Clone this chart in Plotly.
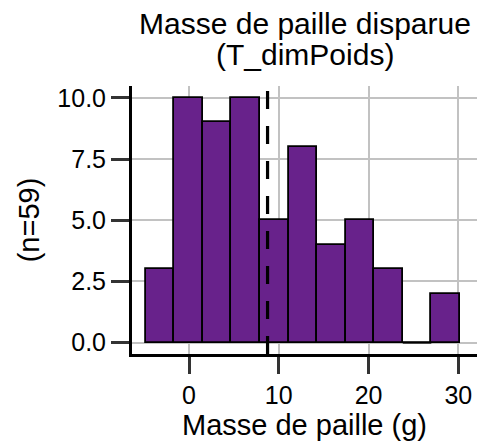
import plotly.graph_objects as go

# ---- data ----
bin_start = -4.81
bin_width = 3.18
counts = [3, 10, 9, 10, 5, 8, 4, 5, 3, 0, 2]
mean_value = 8.75
n_obs = 59
title_lines = ["Masse de paille disparue", "(T_dimPoids)"]
x_title = "Masse de paille (g)"
y_title = "(n=%d)" % n_obs
x_ticks = [0, 10, 20, 30]
y_ticks = [0, 2.5, 5, 7.5, 10]
y_ticklabels = ["0.0", "2.5", "5.0", "7.5", "10.0"]

centers = [bin_start + bin_width * (i + 0.5) for i in range(len(counts))]

FONT = "Liberation Sans, Arial, sans-serif"
PURPLE = "#68228B"

fig = go.Figure()
fig.add_trace(go.Bar(
    x=centers, y=counts, width=[bin_width] * len(counts),
    marker=dict(color=PURPLE, line=dict(color="black", width=1.8)),
    showlegend=False, hoverinfo="x+y",
))
# zero-height bins drawn as outline at y = 0 (like ggplot)
for c, v in zip(centers, counts):
    if v == 0:
        fig.add_trace(go.Scatter(
            x=[c - bin_width / 2, c + bin_width / 2], y=[0, 0], mode="lines",
            line=dict(color="black", width=1.8), showlegend=False, hoverinfo="skip",
        ))

fig.add_shape(type="line", xref="x", yref="paper", x0=mean_value, x1=mean_value,
              y0=0, y1=1, line=dict(color="black", width=3.2, dash="18px,17px"),
              layer="above")

fig.add_annotation(text=title_lines[0], xref="paper", yref="paper", x=0.5, y=1,
                   xanchor="center", yanchor="middle", yshift=63, showarrow=False,
                   font=dict(family=FONT, size=30, color="black"))
fig.add_annotation(text=title_lines[1], xref="paper", yref="paper", x=0.5, y=1,
                   xanchor="center", yanchor="middle", yshift=32, showarrow=False,
                   font=dict(family=FONT, size=30, color="black"))

fig.update_layout(
    width=477, height=442,
    margin=dict(l=132, r=0, t=86, b=88),
    paper_bgcolor="white", plot_bgcolor="white",
    font=dict(family=FONT, color="black"),
    bargap=0,
    xaxis=dict(
        range=[-6.35, 32.08], tickvals=x_ticks, ticktext=[str(t) for t in x_ticks],
        showgrid=True, gridcolor="#C2C2C2", gridwidth=2, zeroline=False,
        showline=True, linecolor="black", linewidth=3,
        ticks="outside", ticklen=17, tickwidth=3, tickcolor="#333333",
        tickfont=dict(family=FONT, size=25, color="black"),
        title=dict(text=x_title, font=dict(family=FONT, size=29, color="black"), standoff=4),
    ),
    yaxis=dict(
        range=[-0.46, 10.48], tickvals=y_ticks, ticktext=y_ticklabels,
        showgrid=True, gridcolor="#C2C2C2", gridwidth=2, zeroline=False,
        showline=True, linecolor="black", linewidth=3,
        ticks="outside", ticklen=18, tickwidth=3, tickcolor="#333333",
        tickfont=dict(family=FONT, size=25, color="black"),
        title=dict(text=y_title, font=dict(family=FONT, size=29, color="black"), standoff=10),
    ),
)

fig.write_html("out.html")
